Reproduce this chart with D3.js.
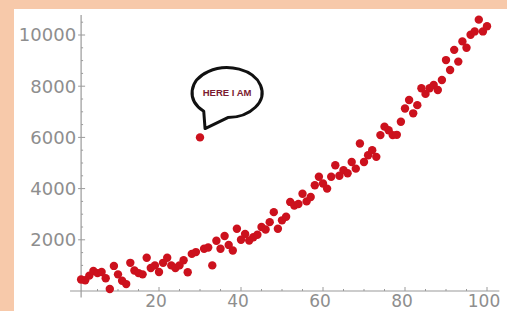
<!DOCTYPE html>
<html><head><meta charset="utf-8">
<script src="https://cdn.jsdelivr.net/npm/d3@7"></script>
<style>html,body{margin:0;padding:0;background:#f7c9aa;overflow:hidden}</style>
</head><body>
<svg id="c" width="507" height="311"></svg>
<script>
const xs = [1,2,3,4,5,6,7,8,9,10,11,12,13,14,15,16,17,18,19,20,21,22,23,24,25,26,27,28,29,30,31,32,33,34,35,36,37,38,39,40,41,42,43,44,45,46,47,48,49,50,51,52,53,54,55,56,57,58,59,60,61,62,63,64,65,66,67,68,69,70,71,72,73,74,75,76,77,78,79,80,81,82,83,84,85,86,87,88,89,90,91,92,93,94,95,96,97,98,99,100];
const ys = [450,420,600,780,700,740,500,80,980,650,400,270,1100,800,700,650,1300,900,1000,740,1100,1300,1000,900,1000,1200,730,1450,1520,6000,1650,1700,1000,1960,1650,2150,1800,1580,2430,2000,2230,1970,2100,2200,2500,2400,2690,3080,2430,2760,2900,3480,3340,3400,3800,3500,3670,4130,4460,4200,4000,4460,4910,4500,4720,4600,5040,4780,5760,5040,5300,5500,5240,6090,6420,6280,6090,6100,6610,7130,7460,6940,7260,7920,7700,7920,8050,7850,8240,9020,8630,9420,8960,9750,9500,10010,10140,10600,10140,10340];
const xTicks = [20,40,60,80,100];
const yTicks = [2000,4000,6000,8000,10000];
const calloutText = "HERE I AM";
const calloutAt = {x: 36.6, y: 7750};

const svg = d3.select("#c");
svg.append("rect").attr("x",14).attr("y",9).attr("width",493).attr("height",302).attr("fill","#ffffff");

const x = d3.scaleLinear().domain([0,100]).range([77,487]);
const y = d3.scaleLinear().domain([0,10000]).range([291,35]);
const axisColor = "#9a9a9a";
const labelColor = "#8e8e8e";
const x0 = x(1), y0 = y(0);

const g = svg.append("g");
g.append("line").attr("x1",x(-1.7)).attr("x2",x(103)).attr("y1",y0).attr("y2",y0).attr("stroke",axisColor).attr("stroke-width",1.2);
g.append("line").attr("x1",x0).attr("x2",x0).attr("y1",y(10780)).attr("y2",y(-250)).attr("stroke",axisColor).attr("stroke-width",1.2);

const xMinor = d3.range(0,101,5).filter(v=>v%20!==0 && v>=1);
const yMinor = d3.range(500,10800,500).filter(v=>v%2000!==0);
g.selectAll(".xm").data(xMinor).join("line").attr("x1",d=>x(d)).attr("x2",d=>x(d)).attr("y1",y0).attr("y2",y0-2).attr("stroke",axisColor);
g.selectAll(".ym").data(yMinor).join("line").attr("y1",d=>y(d)).attr("y2",d=>y(d)).attr("x1",x0).attr("x2",x0+2).attr("stroke",axisColor);
g.selectAll(".xM").data(xTicks).join("line").attr("x1",d=>x(d)).attr("x2",d=>x(d)).attr("y1",y0).attr("y2",y0-4).attr("stroke",axisColor);
g.selectAll(".yM").data(yTicks).join("line").attr("y1",d=>y(d)).attr("y2",d=>y(d)).attr("x1",x0).attr("x2",x0+4).attr("stroke",axisColor);
g.selectAll(".yT").data(yTicks).join("line").attr("y1",d=>y(d)).attr("y2",d=>y(d)).attr("x1",x0-3).attr("x2",x0).attr("stroke",axisColor);

g.selectAll(".xl").data(xTicks).join("text").attr("x",d=>x(d)-3).attr("y",307).attr("text-anchor","middle")
  .attr("font-family","DejaVu Sans").attr("font-size",17).attr("fill",labelColor).text(d=>d);
g.selectAll(".yl").data(yTicks).join("text").attr("x",x0-5).attr("y",d=>y(d)).attr("dy","0.36em").attr("text-anchor","end")
  .attr("font-family","DejaVu Sans").attr("font-size",18).attr("fill",labelColor).text(d=>d);

g.selectAll(".pt").data(xs.map((v,i)=>[v,ys[i]])).join("circle")
  .attr("cx",d=>x(d[0])).attr("cy",d=>y(d[1])).attr("r",4.2).attr("fill","#cc111d");

const cx = x(calloutAt.x), cy = y(calloutAt.y);
const rx = 35, ry = 25;
const a1 = 1.95, a2 = 1.55;
const p1 = [cx + rx*Math.cos(a1+0.35), cy + ry*Math.sin(a1+0.35)];
const p2 = [cx + rx*Math.cos(a2), cy + ry*Math.sin(a2)];
const tip = [cx-22, cy+36];
const path = `M${p2[0]},${p2[1]} A${rx},${ry} 0 1 0 ${p1[0]},${p1[1]} L${tip[0]},${tip[1]} Z`;
g.append("path").attr("d",path).attr("fill","#fff").attr("stroke","#111").attr("stroke-width",3).attr("stroke-linejoin","round");
g.append("text").attr("x",cx).attr("y",cy+3.5).attr("text-anchor","middle").attr("font-family","Liberation Sans")
  .attr("font-weight","bold").attr("font-size",9.5).attr("fill","#7a1a30").text(calloutText);
</script>
</body></html>
